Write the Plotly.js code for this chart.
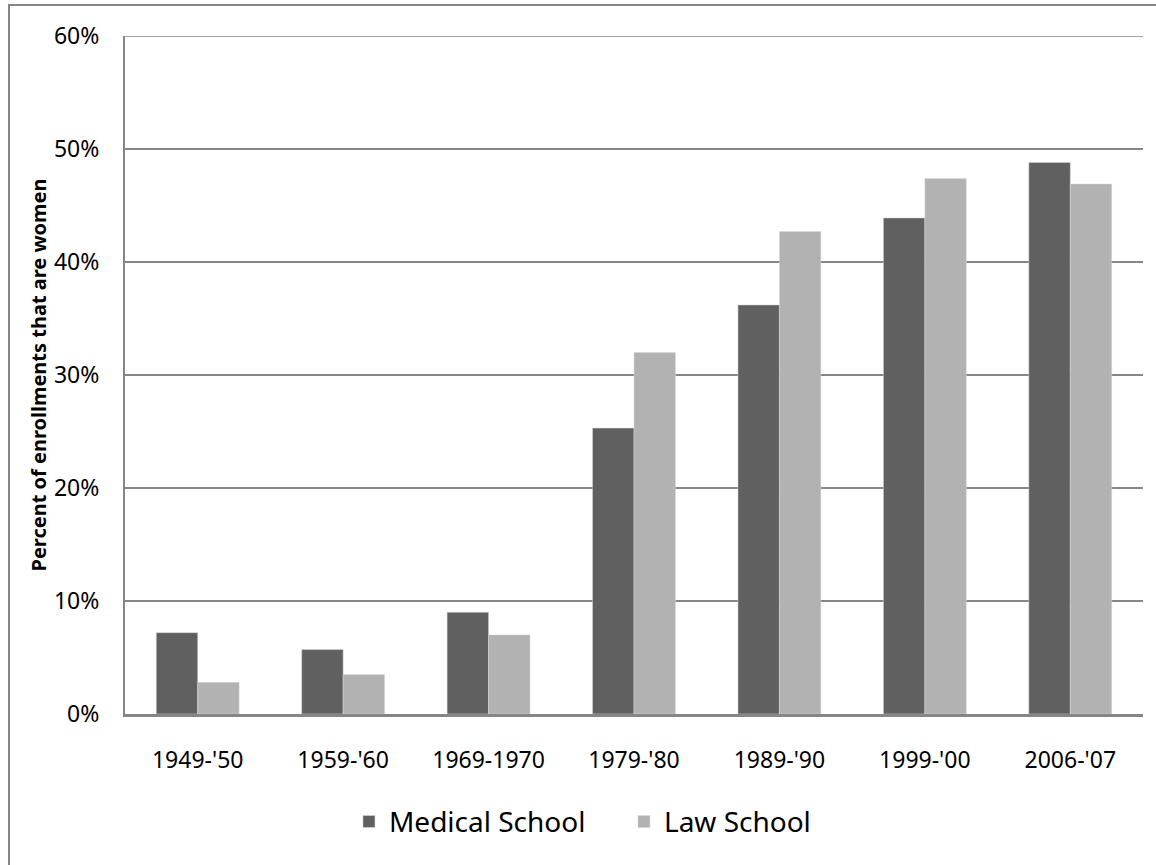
<!DOCTYPE html>
<html>
<head>
<meta charset="utf-8">
<script src="https://cdn.plot.ly/plotly-3.0.1.min.js"></script>
<style>
  html, body { margin: 0; padding: 0; background: #ffffff; }
  #chart { width: 1156px; height: 865px; }
</style>
</head>
<body>
<div id="chart"></div>
<script>
const categories = ["1949-'50", "1959-'60", "1969-1970", "1979-'80", "1989-'90", "1999-'00", "2006-'07"];
const medicalSchool = [7.2, 5.7, 9.0, 25.3, 36.2, 43.9, 48.8];
const lawSchool = [2.8, 3.5, 7.0, 32.0, 42.7, 47.4, 46.9];
const yTickValues = [0, 10, 20, 30, 40, 50, 60];
const yTickLabels = ["0%", "10%", "20%", "30%", "40%", "50%", "60%"];

const FONT = "Noto Sans, Open Sans, sans-serif";
const GRID = "#868686";
const yMax = yTickValues[yTickValues.length - 1];

const traces = [
  {
    type: "bar", name: "Medical School", x: categories, y: medicalSchool,
    marker: { color: "#606060", line: { color: "#d9d9d9", width: 0.5 } },
    hoverinfo: "x+y+name"
  },
  {
    type: "bar", name: "Law School", x: categories, y: lawSchool,
    marker: { color: "#b2b2b2", line: { color: "#d9d9d9", width: 0.5 } },
    hoverinfo: "x+y+name"
  }
];

const layout = {
  width: 1156, height: 865,
  margin: { l: 125, r: 13, t: 36, b: 151, pad: 0 },
  paper_bgcolor: "#ffffff", plot_bgcolor: "#ffffff",
  font: { family: FONT, color: "#000000" },
  barmode: "group", bargap: 0.43, bargroupgap: 0,
  showlegend: true,
  legend: {
    orientation: "h", x: 0.22, xanchor: "left", y: -0.159, yanchor: "middle",
    font: { size: 28, family: FONT, color: "#000000" },
    entrywidth: 230, traceorder: "normal", bgcolor: "rgba(0,0,0,0)"
  },
  xaxis: {
    type: "category", showgrid: false, zeroline: false,
    showline: true, linecolor: GRID, linewidth: 2.5,
    ticks: "outside", ticklen: 24, tickcolor: "rgba(0,0,0,0)",
    tickfont: { size: 23, family: FONT, color: "#000000" }
  },
  yaxis: {
    range: [0, yMax], tickvals: yTickValues, ticktext: yTickLabels,
    showgrid: true, gridcolor: GRID, gridwidth: 1.5, zeroline: false,
    showline: true, linecolor: GRID, linewidth: 2,
    ticks: "outside", ticklen: 19, tickcolor: "rgba(0,0,0,0)",
    tickfont: { size: 23, family: FONT, color: "#000000" },
    title: { text: "Percent of enrollments that are women", font: { size: 20, family: FONT, color: "#000000", weight: "bold" }, standoff: 2 }
  },
  shapes: [
    { type: "line", xref: "paper", yref: "y", x0: 0, x1: 1, y0: yMax, y1: yMax,
      line: { color: GRID, width: 1.5 }, layer: "below" },
    { type: "rect", xref: "paper", yref: "paper",
      x0: (9 - 125) / 1018, x1: 1.05, y0: -0.25, y1: (714 - 5) / 678,
      line: { color: GRID, width: 2 }, fillcolor: "rgba(0,0,0,0)", layer: "below" }
  ]
};

Plotly.newPlot("chart", traces, layout, { displayModeBar: false, staticPlot: true });
</script>
</body>
</html>
